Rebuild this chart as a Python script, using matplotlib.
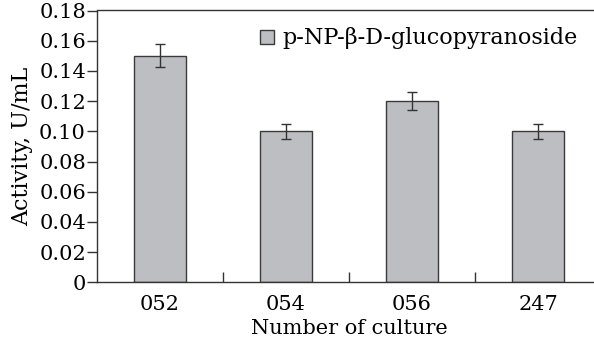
import numpy as np
import matplotlib
matplotlib.use("Agg")
import matplotlib.pyplot as plt
from matplotlib.ticker import FixedLocator

# Data
cultures = ["052", "054", "056", "247"]
activity = [0.150, 0.100, 0.120, 0.100]
errors = [0.0077, 0.005, 0.006, 0.005]
y_ticks = [0, 0.02, 0.04, 0.06, 0.08, 0.10, 0.12, 0.14, 0.16, 0.18]
y_tick_labels = ["0", "0.02", "0.04", "0.06", "0.08", "0.10", "0.12", "0.14", "0.16", "0.18"]

plt.rcParams['font.family'] = ['DejaVu Serif']
plt.rcParams['font.size'] = 15

fig = plt.figure(figsize=(5.94, 3.37), dpi=100)
# axes run slightly past the right edge, like the cropped original
ax = fig.add_axes([97 / 594, 1 - 282.3 / 337, 504 / 594, (282.3 - 10.5) / 337])

x = np.arange(len(cultures))
ax.bar(x, activity, width=0.405, color='#bdbec2', edgecolor='#3a3a3a', linewidth=1.0,
       label='p-NP-β-D-glucopyranoside', zorder=2)
ax.errorbar(x, activity, yerr=errors, fmt='none', ecolor='#333333', elinewidth=1.0,
            capsize=3.5, capthick=1.0, zorder=3)

ax.set_xlim(-0.5, 3.5)
ax.set_ylim(0, 0.18)
ax.set_yticks(y_ticks)
ax.set_yticklabels(y_tick_labels)
ax.set_xticks(x)
ax.set_xticklabels(cultures)
ax.xaxis.set_minor_locator(FixedLocator([0.5, 1.5, 2.5]))
ax.tick_params(axis='x', which='major', length=0, pad=9)
ax.tick_params(axis='x', which='minor', direction='in', length=7, width=1.0, color='#333333')
ax.tick_params(axis='y', direction='out', length=7, width=1.0, color='#333333', pad=1)

for s in ax.spines.values():
    s.set_color('#333333')
    s.set_linewidth(1.0)

ax.set_ylabel('Activity, U/mL', fontsize=16, labelpad=4)
ax.set_xlabel('Number of culture', labelpad=4)

ax.legend(loc='upper right', bbox_to_anchor=(0.985, 0.995), frameon=False, fontsize=16,
          handlelength=0.6, handleheight=0.6, handletextpad=0.4, borderaxespad=0.3)

fig.savefig('out.png', dpi=100)
